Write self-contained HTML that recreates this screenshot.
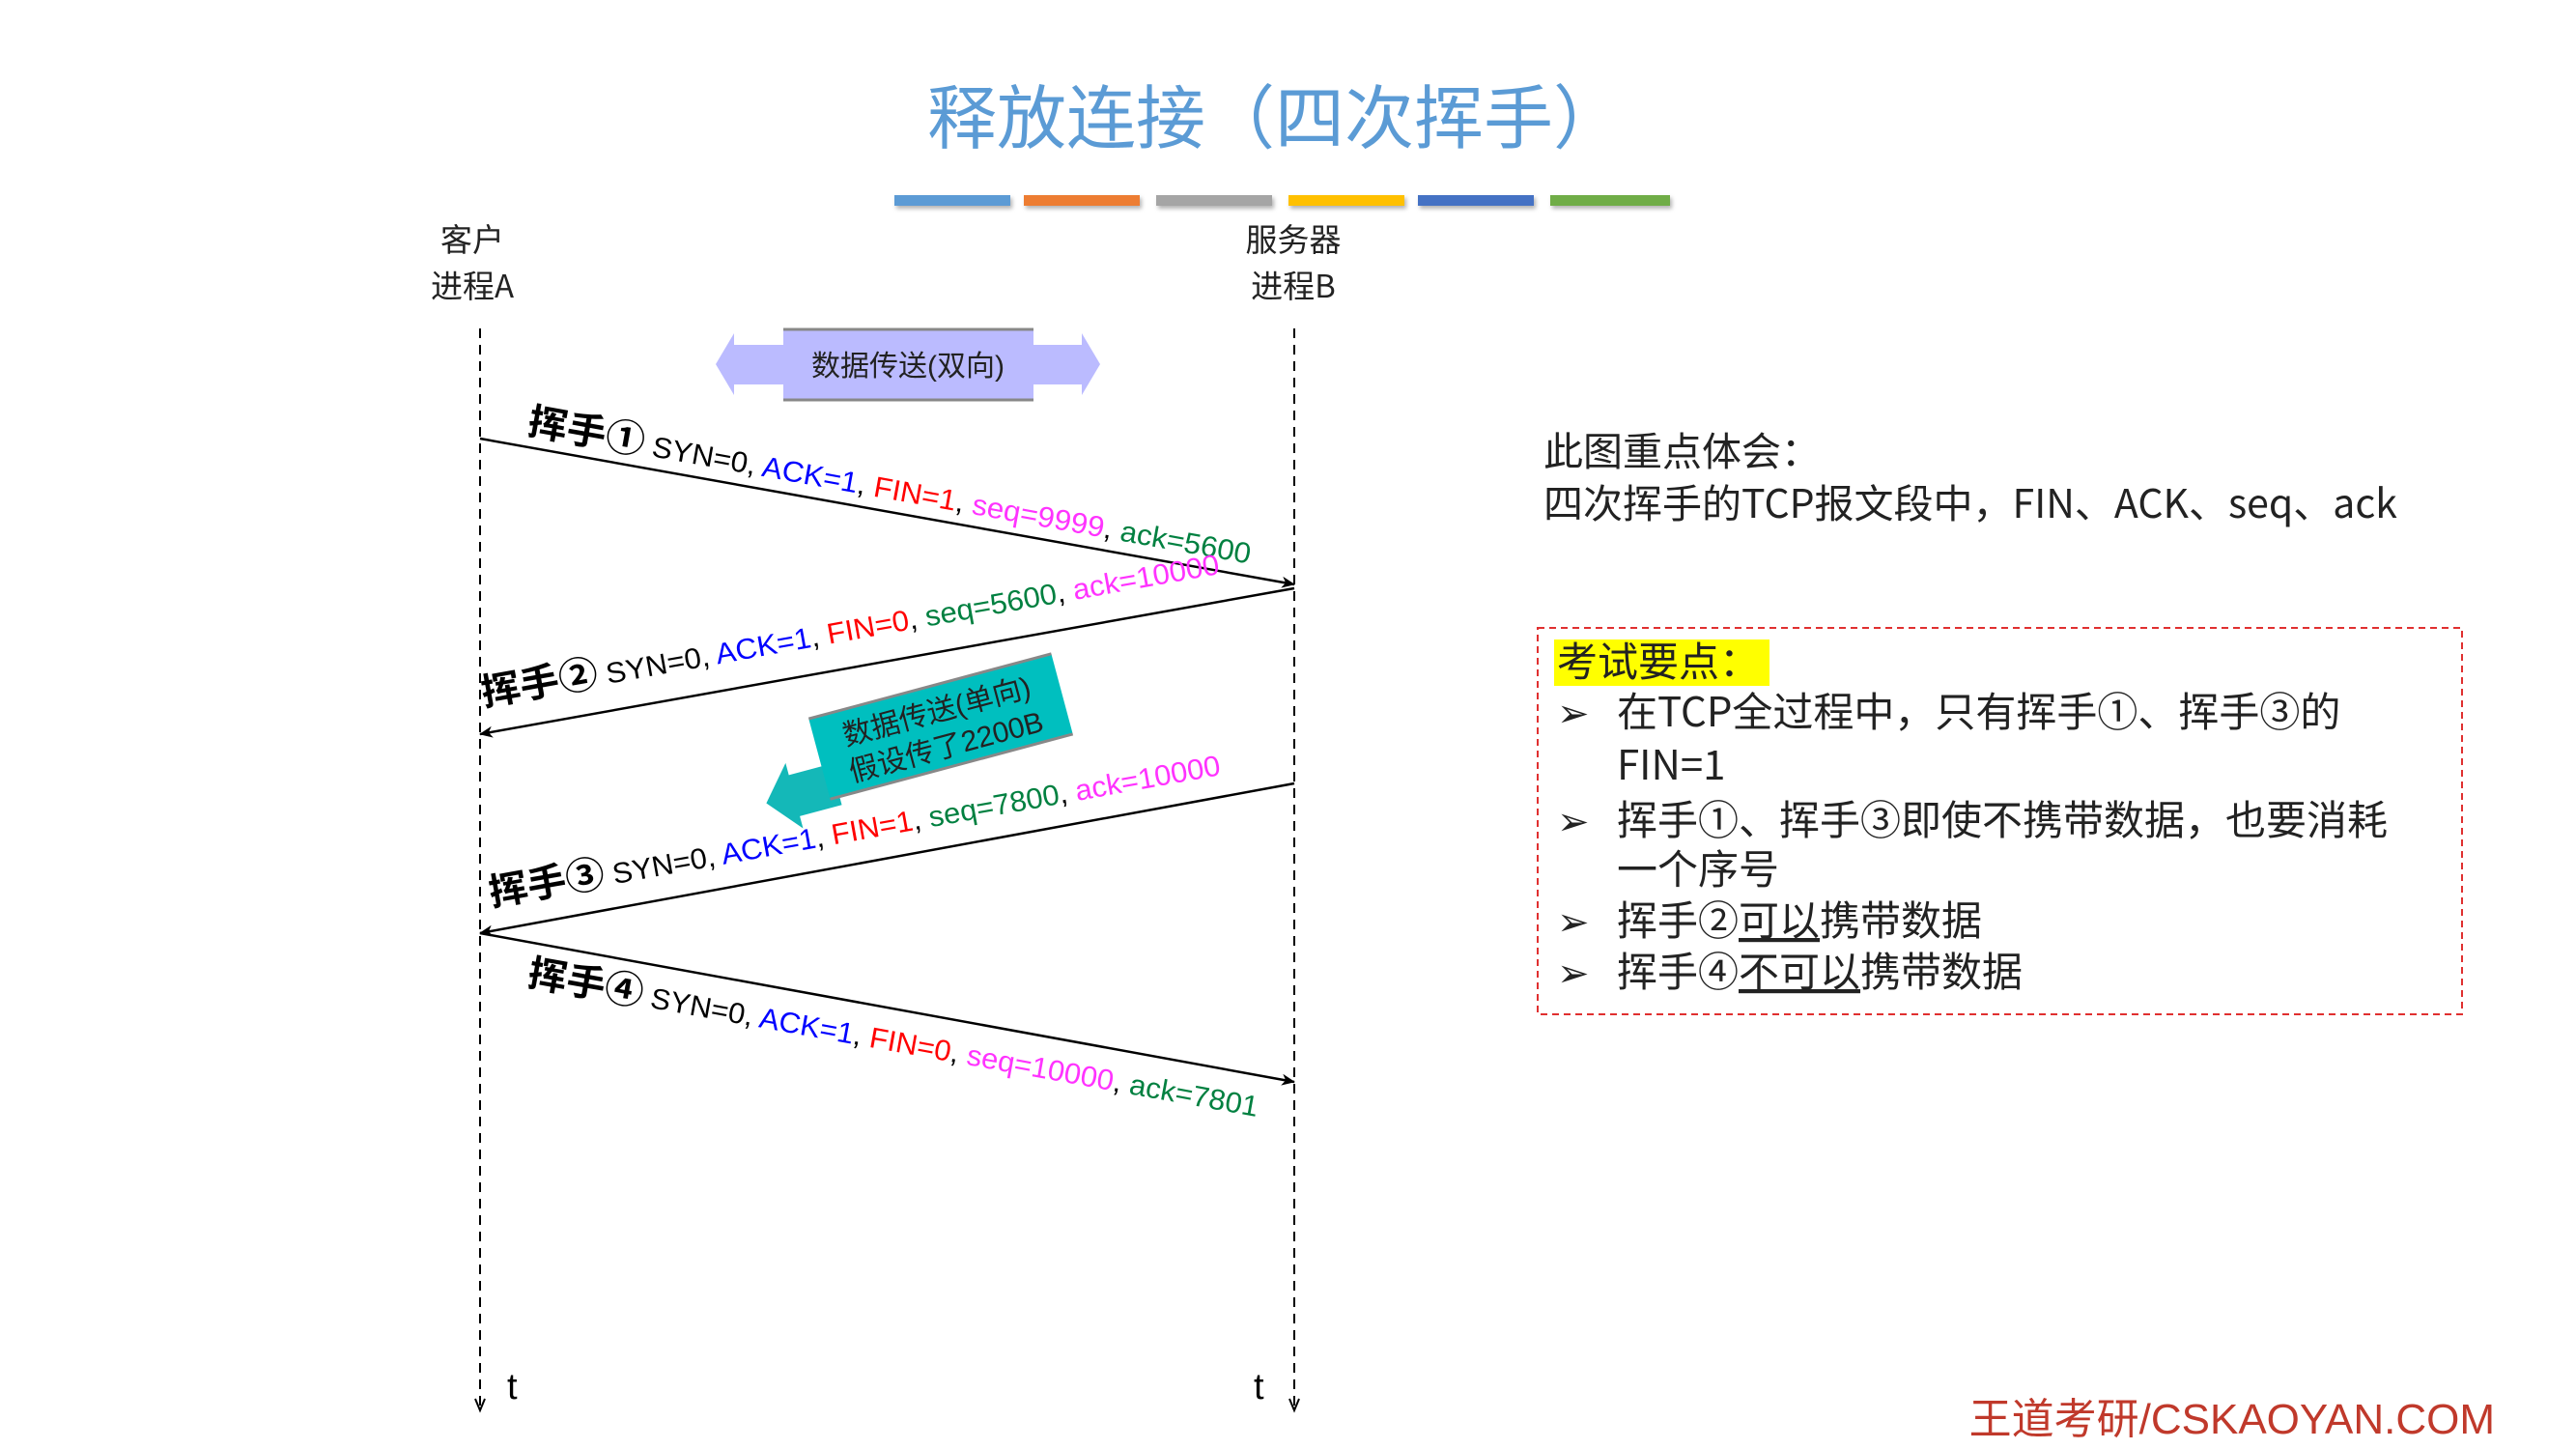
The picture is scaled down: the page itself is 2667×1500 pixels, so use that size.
<!DOCTYPE html>
<html><head><meta charset="utf-8"><style>
html,body{margin:0;padding:0;background:#fff;}
svg{display:block}
</style></head><body>
<svg width="2667" height="1500" viewBox="0 0 2667 1500" xmlns="http://www.w3.org/2000/svg" font-family="'Liberation Sans','Noto Sans CJK SC',sans-serif">
<defs>
<marker id="ah" markerWidth="14" markerHeight="12" refX="13" refY="6" orient="auto" markerUnits="userSpaceOnUse">
<path d="M0,0 L14,6 L0,12 L4,6 Z" fill="#000"/>
</marker>
<filter id="sh" x="-10%" y="-50%" width="120%" height="250%"><feDropShadow dx="2" dy="3" stdDeviation="2" flood-color="#000" flood-opacity="0.3"/></filter>
</defs>

<text x="1320" y="148" text-anchor="middle" font-size="72" fill="#5B9BD5" font-family="'Noto Sans CJK SC',sans-serif">释放连接（四次挥手）</text>

<g filter="url(#sh)">
<rect x="926" y="202" width="120" height="11" fill="#5B9BD5"/>
<rect x="1060" y="202" width="120" height="11" fill="#ED7D31"/>
<rect x="1197" y="202" width="120" height="11" fill="#A5A5A5"/>
<rect x="1334" y="202" width="120" height="11" fill="#FFC000"/>
<rect x="1468" y="202" width="120" height="11" fill="#4472C4"/>
<rect x="1605" y="202" width="124" height="11" fill="#70AD47"/>
</g>

<g font-size="33" fill="#222" text-anchor="middle" font-family="'Noto Sans CJK SC',sans-serif">
<text x="489" y="260">客户</text>
<text x="489" y="308">进程A</text>
<text x="1339" y="260">服务器</text>
<text x="1339" y="308">进程B</text>
</g>

<line x1="497" y1="340" x2="497" y2="1458" stroke="#000" stroke-width="2" stroke-dasharray="10,7"/>
<line x1="1340" y1="340" x2="1340" y2="1458" stroke="#000" stroke-width="2" stroke-dasharray="10,7"/>
<path d="M492,1448 L497,1460 L502,1448" fill="none" stroke="#000" stroke-width="2"/>
<path d="M1335,1448 L1340,1460 L1345,1448" fill="none" stroke="#000" stroke-width="2"/>
<text x="525" y="1448" font-size="38" fill="#000">t</text>
<text x="1298" y="1448" font-size="38" fill="#000">t</text>

<path d="M741,377 L760,345 L760,357 L1120,357 L1120,345 L1139,377 L1120,409 L1120,398 L760,398 L760,409 Z" fill="#BBBBFF"/>
<rect x="811" y="340" width="259" height="75" fill="#BBBBFF"/>
<line x1="811" y1="341" x2="1070" y2="341" stroke="#888" stroke-width="3"/>
<line x1="811" y1="414" x2="1070" y2="414" stroke="#888" stroke-width="3"/>
<text x="940" y="389" text-anchor="middle" font-size="30" fill="#222">数据传送(双向)</text>

<g stroke="#000" stroke-width="2.5" fill="none">
<line x1="497" y1="454" x2="1340" y2="605" marker-end="url(#ah)"/>
<line x1="1340" y1="609" x2="497" y2="760" marker-end="url(#ah)"/>
<line x1="1340" y1="811" x2="497" y2="966" marker-end="url(#ah)"/>
<line x1="497" y1="966" x2="1340" y2="1120" marker-end="url(#ah)"/>
</g>

<text transform="translate(545,449) rotate(10.2)" font-size="30" textLength="760" lengthAdjust="spacingAndGlyphs"><tspan font-weight="bold" font-size="39" font-family="'Noto Sans CJK SC',sans-serif">挥手①</tspan><tspan> SYN=0, </tspan><tspan fill="#0000FF">ACK=1</tspan><tspan>, </tspan><tspan fill="#FF0000">FIN=1</tspan><tspan>, </tspan><tspan fill="#FF33FF">seq=9999</tspan><tspan>, </tspan><tspan fill="#008040">ack=5600</tspan></text>

<text transform="translate(501,731) rotate(-10.2)" font-size="30" textLength="775" lengthAdjust="spacingAndGlyphs"><tspan font-weight="bold" font-size="39" font-family="'Noto Sans CJK SC',sans-serif">挥手②</tspan><tspan> SYN=0, </tspan><tspan fill="#0000FF">ACK=1</tspan><tspan>, </tspan><tspan fill="#FF0000">FIN=0</tspan><tspan>, </tspan><tspan fill="#008040">seq=5600</tspan><tspan>, </tspan><tspan fill="#FF33FF">ack=10000</tspan></text>

<text transform="translate(509,938) rotate(-10.2)" font-size="30" textLength="768" lengthAdjust="spacingAndGlyphs"><tspan font-weight="bold" font-size="39" font-family="'Noto Sans CJK SC',sans-serif">挥手③</tspan><tspan> SYN=0, </tspan><tspan fill="#0000FF">ACK=1</tspan><tspan>, </tspan><tspan fill="#FF0000">FIN=1</tspan><tspan>, </tspan><tspan fill="#008040">seq=7800</tspan><tspan>, </tspan><tspan fill="#FF33FF">ack=10000</tspan></text>

<text transform="translate(545,1020) rotate(10.2)" font-size="30" textLength="768" lengthAdjust="spacingAndGlyphs"><tspan font-weight="bold" font-size="39" font-family="'Noto Sans CJK SC',sans-serif">挥手④</tspan><tspan> SYN=0, </tspan><tspan fill="#0000FF">ACK=1</tspan><tspan>, </tspan><tspan fill="#FF0000">FIN=0</tspan><tspan>, </tspan><tspan fill="#FF33FF">seq=10000</tspan><tspan>, </tspan><tspan fill="#008040">ack=7801</tspan></text>

<g transform="translate(974,752) rotate(-15)">
<path d="M-195,30 L-165,-5 L-165,8 L-120,8 L-120,52 L-165,52 L-165,65 Z" fill="#14B8B8"/>
<rect x="-130" y="-43" width="260" height="86" fill="#00BFBF"/>
<line x1="-130" y1="-43" x2="130" y2="-43" stroke="#888" stroke-width="3"/>
<line x1="-130" y1="43" x2="130" y2="43" stroke="#888" stroke-width="3"/>
<text x="0" y="-6" text-anchor="middle" font-size="30" fill="#222">数据传送(单向)</text>
<text x="0" y="32" text-anchor="middle" font-size="30" fill="#222">假设传了2200B</text>
</g>

<g font-family="'Noto Sans CJK SC',sans-serif" font-size="41" fill="#222">
<text x="1598" y="482">此图重点体会：</text>
<text x="1598" y="536">四次挥手的TCP报文段中，FIN、ACK、seq、ack</text>
</g>

<rect x="1592" y="650" width="957" height="400" fill="none" stroke="#E03030" stroke-width="2" stroke-dasharray="7,5"/>
<rect x="1609" y="662" width="223" height="48" fill="#FFFF00"/>
<g font-family="'Noto Sans CJK SC',sans-serif" font-size="42" fill="#222">
<text x="1612" y="700">考试要点：</text>
<text x="1612" y="752" font-size="40" font-weight="bold" font-family="'DejaVu Sans',sans-serif">➢</text>
<text x="1674" y="752">在TCP全过程中，只有挥手①、挥手③的</text>
<text x="1674" y="807">FIN=1</text>
<text x="1612" y="864" font-size="40" font-weight="bold" font-family="'DejaVu Sans',sans-serif">➢</text>
<text x="1674" y="864">挥手①、挥手③即使不携带数据，也要消耗</text>
<text x="1674" y="915">一个序号</text>
<text x="1612" y="968" font-size="40" font-weight="bold" font-family="'DejaVu Sans',sans-serif">➢</text>
<text x="1674" y="968">挥手②<tspan text-decoration="underline">可以</tspan>携带数据</text>
<text x="1612" y="1021" font-size="40" font-weight="bold" font-family="'DejaVu Sans',sans-serif">➢</text>
<text x="1674" y="1021">挥手④<tspan text-decoration="underline">不可以</tspan>携带数据</text>
</g>

<text x="2583" y="1484" text-anchor="end" font-size="44" fill="#C0392B" font-family="'Liberation Sans','Noto Sans CJK SC',sans-serif">王道考研/CSKAOYAN.COM</text>
</svg>
</body></html>
